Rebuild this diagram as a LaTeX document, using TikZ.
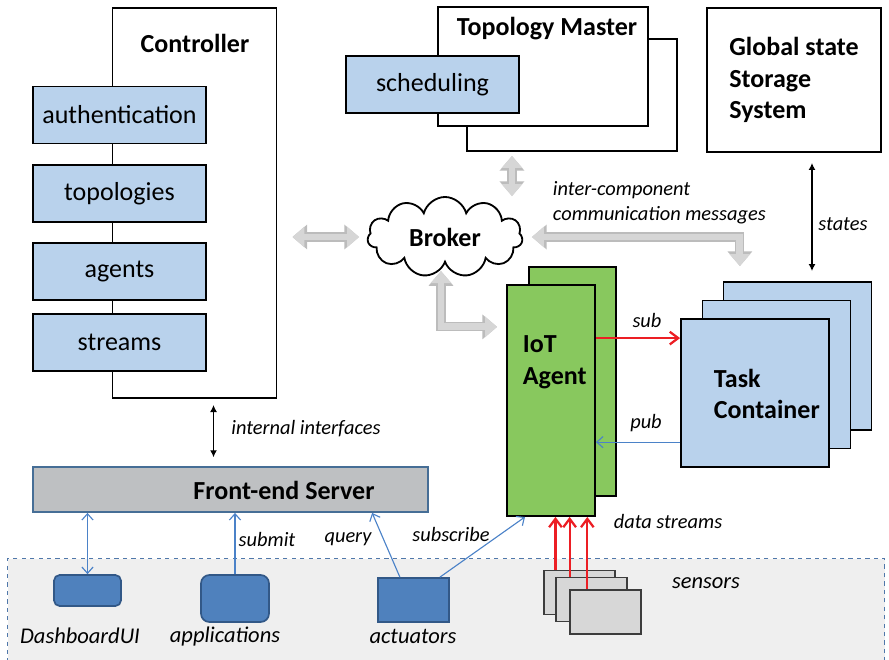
\documentclass[tikz,border=0pt]{standalone}
\usepackage{fontspec}
\setmainfont{Carlito}
\usepackage{tikz}
\usetikzlibrary{arrows.meta,calc,positioning,shapes.symbols}

\definecolor{modblue}{RGB}{185,210,236}
\definecolor{iotgreen}{RGB}{136,200,94}
\definecolor{fegray}{RGB}{190,192,194}
\definecolor{feborder}{RGB}{70,110,150}
\definecolor{devblue}{RGB}{79,129,189}
\definecolor{devborder}{RGB}{50,88,135}
\definecolor{regiongray}{RGB}{239,239,239}
\definecolor{regionblue}{RGB}{80,120,170}
\definecolor{sensgray}{RGB}{215,215,215}
\definecolor{sensborder}{RGB}{60,60,60}
\definecolor{linkblue}{RGB}{75,130,200}
\definecolor{streamred}{RGB}{236,30,36}
\definecolor{fatin}{RGB}{214,214,214}
\definecolor{fatout}{RGB}{188,188,188}

\begin{document}
\begin{tikzpicture}[x=0.025cm,y=-0.025cm,
	box/.style={draw=black,line width=1.3pt,inner sep=0pt},
	module/.style={box,fill=modblue,minimum width=4.325cm,minimum height=1.425cm,font=\fontsize{18.5}{22}\selectfont},
	title/.style={font=\fontsize{18.5}{22.6}\selectfont\bfseries,align=left},
	lbl/.style={font=\fontsize{14.5}{17.8}\selectfont\itshape,align=left},
	devlbl/.style={font=\fontsize{16}{19}\selectfont\itshape},
	device/.style={draw=devborder,fill=devblue,line width=1.2pt,inner sep=0pt},
	sensor/.style={draw=sensborder,fill=sensgray,line width=1.3pt,minimum width=1.775cm,minimum height=1.1cm,inner sep=0pt},
	link/.style={draw=linkblue,line width=0.8pt,>={Straight Barb[length=4.5pt,width=8pt]}},
	stream/.style={draw=streamred,line width=1.6pt,>={Straight Barb[length=6pt,width=9pt]}},
	arr/.style={draw=black,line width=1pt,>={Latex[length=5pt,width=5pt]}},
	fat/.style={draw=fatin,line width=0.17cm,
		{Triangle[width=0.5cm,length=0.3cm]}-{Triangle[width=0.5cm,length=0.3cm]},
		preaction={draw=fatout,line width=0.23cm,
			{Triangle[width=0.6cm,length=0.37cm]}-{Triangle[width=0.6cm,length=0.37cm]}}}]

	\useasboundingbox (0,0) rectangle (889,659);
	\clip (0,0) rectangle (889,659);

	% sensors region
	\node[draw=regionblue,dashed,fill=regiongray,line width=0.8pt,minimum width=21.925cm,minimum height=3cm,anchor=north west] (region) at (7,558) {};

	% controller
	\node[box,minimum width=4.1cm,minimum height=9.75cm] (ctrl) at (194.5,203) {};
	\node[title] (ctrltitle) at (195,43) {Controller};
	\node[module] (auth) at (119.5,115) {authentication};
	\node[module] (topo) at (119.5,193.5) {topologies};
	\node[module] (agents) at (119.5,271.5) {agents};
	\node[module] (streams) at (119.5,342.5) {streams};

	% topology master
	\node[box,fill=white,minimum width=5.25cm,minimum height=2.8cm] (tmback) at (572,95) {};
	\node[box,fill=white,minimum width=5.25cm,minimum height=2.975cm] (tm) at (543,66.5) {};
	\node[title] (tmtitle) at (547,29) {Topology Master};
	\node[module] (sched) at (432.5,84.5) {scheduling};

	% global state storage
	\node[box,title,minimum width=4.35cm,minimum height=3.6cm] (gss) at (794,80) {Global state\\Storage\\System};

	% broker
	\node[cloud,draw,line width=1.3pt,fill=white,cloud puffs=11,aspect=2,minimum width=3.875cm,minimum height=2cm,inner sep=0pt,title] (broker) at (445,237) {Broker};

	% iot agent
	\node[box,fill=iotgreen,minimum width=2.175cm,minimum height=5.725cm] (iotback) at (572.5,381.5) {};
	\node[box,fill=iotgreen,minimum width=2.2cm,minimum height=5.775cm] (iot) at (551,400.5) {};
	\node[title,anchor=west] (iottitle) at (518,362) {IoT\\Agent};

	% task containers
	\node[box,fill=modblue,minimum size=3.7cm] (task3) at (797.5,356) {};
	\node[box,fill=modblue,minimum size=3.7cm] (task2) at (776.5,374.5) {};
	\node[box,fill=modblue,minimum size=3.7cm] (task1) at (755,393) {};
	\node[title,anchor=west] (tasktitle) at (709,394) {Task\\Container};

	% front-end server
	\node[draw=feborder,fill=fegray,line width=1.3pt,minimum width=9.875cm,minimum height=1.125cm] (fe) at (230.5,489.5) {};
	\node[title] (fetitle) at (284,490) {Front-end Server};

	% devices
	\node[device,rounded corners=4pt,minimum width=1.675cm,minimum height=0.775cm] (dash) at (87.5,590.5) {};
	\node[device,rounded corners=6pt,minimum width=1.7cm,minimum height=1.175cm] (apps) at (235,598.5) {};
	\node[device,minimum width=1.775cm,minimum height=1.1cm] (act) at (413.5,600) {};
	\node[devlbl] (dashlbl) at (80,636) {DashboardUI};
	\node[devlbl] (appslbl) at (225,636) {applications};
	\node[devlbl] (actlbl) at (413,636) {actuators};

	% sensors
	\node[sensor] (s1) at (579.5,592.5) {};
	\node[sensor] (s2) at (591.5,599.5) {};
	\node[sensor] (s3) at (605.5,612) {};
	\node[devlbl] (senslbl) at (706,583) {sensors};

	% gray broker arrows
	\draw[fat,shorten <=0.375cm,shorten >=0.2cm] (ctrl.east |- broker.west) -- (broker.west);
	\coordinate (tmb) at ([xshift=-1.5cm]tmback.south);
	\draw[fat,shorten <=0.1cm] (tmb) -- (tmb |- broker.north);
	\coordinate (taskb) at ([xshift=-1.44cm]task3.north);
	\draw[fat,shorten <=0.225cm,shorten >=0.375cm] (broker.east) -| (taskb);
	\coordinate (iotb) at ([yshift=1.84cm]iot.west);
	\draw[fat,shorten <=0.175cm,shorten >=0.225cm] ([xshift=-0.1cm]broker.south) |- (iotb);
	\node[lbl,anchor=west] (iclbl) at (548,203) {inter-component\\communication messages};

	% black interfaces
	\coordinate (ctrli) at ([xshift=0.475cm]ctrl.south);
	\draw[arr,<->,shorten <=0.15cm,shorten >=0.22cm] (ctrli) -- (ctrli |- fe.north);
	\node[lbl] (iilbl) at (306,429) {internal interfaces};
	\coordinate (gssb) at ([xshift=0.45cm]gss.south);
	\draw[arr,<->,shorten <=0.25cm,shorten >=0.25cm] (gssb) -- (gssb |- task3.north);
	\node[lbl] (stateslbl) at (843,224) {states};

	% sub and pub
	\coordinate (subA) at ([yshift=1.56cm]iot.east);
	\draw[stream,->] (subA) -- (subA -| task1.west);
	\node[lbl] (sublbl) at (647,320) {sub};
	\coordinate (pubA) at ([yshift=-1.04cm]iot.east);
	\draw[link,->] (pubA -| task1.west) -- (pubA);
	\node[lbl] (publbl) at (646,423) {pub};

	% device links
	\draw[link,<->] (dash.north) -- (dash.north |- fe.south);
	\draw[link,->] (apps.north) -- (apps.north |- fe.south);
	\node[lbl] (submitlbl) at (267,539) {submit};
	\coordinate (actq) at ([xshift=-0.34cm]act.north);
	\coordinate (feq) at ([xshift=3.54cm]fe.south);
	\draw[link,->] (actq) -- (feq);
	\node[lbl] (querylbl) at (348,539) {query};
	\coordinate (acts) at ([xshift=0.66cm]act.north);
	\coordinate (iots) at ([xshift=-0.65cm]iot.south);
	\draw[link,->] (acts) -- (iots);
	\node[lbl] (subscribelbl) at (451,534) {subscribe};

	% data streams
	\coordinate (ds1) at ($(s1.north west)!0.17!(s1.north east)$);
	\coordinate (ds2) at ($(s2.north west)!0.2!(s2.north east)$);
	\coordinate (ds3) at ($(s3.north west)!0.25!(s3.north east)$);
	\draw[stream,->] (ds1) -- (ds1 |- iot.south);
	\draw[stream,->] (ds2) -- (ds2 |- iot.south);
	\draw[stream,->] (ds3) -- (ds3 |- iot.south);
	\node[lbl] (dslbl) at (668,521) {data streams};

\end{tikzpicture}
\end{document}
